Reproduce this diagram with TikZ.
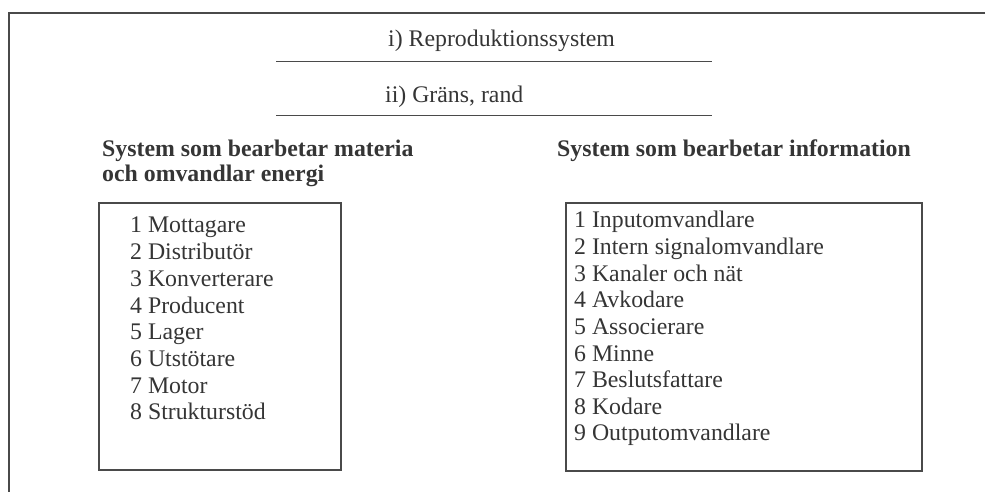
\documentclass[tikz,border=0pt]{standalone}
\usepackage{fontspec}
\setmainfont{Liberation Serif}
\definecolor{ink}{HTML}{353535}
\definecolor{rulegray}{HTML}{4A4A4A}
\begin{document}
\begin{tikzpicture}[x=1pt,y=-1pt,
  frame/.style={draw=rulegray,line width=1.8pt},
  txt/.style={text=ink,font=\fontsize{23.8}{26}\selectfont,anchor=base west,inner sep=0pt},
  head/.style={txt,font=\fontsize{23.8}{26}\selectfont\bfseries},
  listbox/.style={frame,inner sep=0pt,anchor=north west}]
\useasboundingbox (0,0) rectangle (986,492);

% outer frame: top and left edges only
\coordinate (ftr) at (985,13);
\coordinate (ftl) at (9,13);
\coordinate (fbl) at (9,492);
\draw[frame] (ftr) -- (ftl) -- (fbl);

% headings on rules
\node[txt] (t1) at (388,47) {i) Reproduktionssystem};
\coordinate (r1a) at (276,61.5);
\coordinate (r1b) at (712,61.5);
\draw[frame] (r1a) -- (r1b);

\node[txt] (t2) at (385,103) {ii) Gräns, rand};
\coordinate (r2a) at (276,115.5);
\coordinate (r2b) at (712,115.5);
\draw[frame] (r2a) -- (r2b);

% column headings
\node[head] (hl1) at (102,157) {System som bearbetar materia};
\node[head] (hl2) at (102,182) {och omvandlar energi};
\node[head] (hr) at (557,157) {System som bearbetar information};

% list boxes
\node[listbox,minimum width=242pt,minimum height=267pt] (boxL) at (98,202) {};
\node[listbox,minimum width=356pt,minimum height=268pt] (boxR) at (565,202) {};

% left list
\foreach \t [count=\k] in {Mottagare,Distributör,Konverterare,Producent,Lager,Utstötare,Motor,Strukturstöd}
  \node[txt] (l\k) at (130,{233+26.7*(\k-1)}) {\k\ \t};

% right list
\foreach \t [count=\k] in {Inputomvandlare,Intern signalomvandlare,Kanaler och nät,Avkodare,Associerare,Minne,Beslutsfattare,Kodare,Outputomvandlare}
  \node[txt] (r\k) at (574,{228+26.6*(\k-1)}) {\k\ \t};
\end{tikzpicture}
\end{document}
